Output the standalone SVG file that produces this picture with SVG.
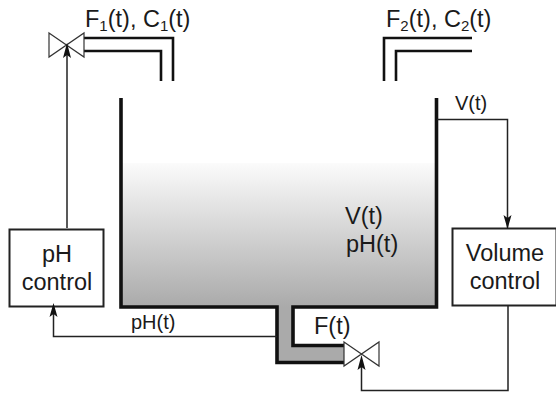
<svg xmlns="http://www.w3.org/2000/svg" width="556" height="393" viewBox="0 0 556 393">
<style>
text{font-family:"Liberation Sans",Arial,sans-serif;font-size:23.500px;fill:#1a1a1a}
.sm{font-size:20px}
.sub{font-size:15px}
.pipe{fill:none;stroke:#111;stroke-width:2.6}
.wall{fill:none;stroke:#111;stroke-width:3.6}
.sig{fill:none;stroke:#222;stroke-width:1.5}
.box{fill:#fff;stroke:#222;stroke-width:2}
.valve{fill:#fff;stroke:#333;stroke-width:1.2}
.ah{fill:#111}
</style>
<defs>
<linearGradient id="liq" x1="0" y1="0" x2="0" y2="1">
<stop offset="0" stop-color="#fbfbfb"/><stop offset="1" stop-color="#aaaaaa"/>
</linearGradient>
</defs>
<g id="tank">
<rect x="121" y="163" width="316" height="144" fill="url(#liq)"/>
<path d="M277 307H293V345H344V363H277Z" fill="#aaaaaa"/>
<path class="wall" d="M121 98V307H277V362.500H344"/>
<path class="wall" d="M436.500 98V307H293V345.500H344"/>
</g>
<g id="inlet1" class="pipe"><path d="M84 38H173V81M84 51H161V81"/></g>
<g id="inlet2" class="pipe"><path d="M472 38H384V81M472 51H396V81"/></g>
<g id="connectors">
<path class="sig" d="M67 228V48"/>
<path class="sig" d="M277 336.500H53.500V306"/>
<path class="sig" d="M437 119.500H507.500V228"/>
<path class="sig" stroke="#666" d="M508 306V390.500H361.500V363"/>
</g>
<g id="valve1"><path class="valve" d="M49 33L84 57V33L49 57Z"/></g>
<g id="valve2"><path class="valve" d="M344 342L379 366V342L344 366Z"/></g>
<g id="ph-control"><rect class="box" x="9.500" y="229.500" width="94" height="77"/>
<text x="57" y="262" text-anchor="middle">pH</text><text x="57" y="290" text-anchor="middle">control</text></g>
<g id="volume-control"><rect class="box" x="452.500" y="228.500" width="104" height="77"/>
<text x="505" y="261" text-anchor="middle">Volume</text><text x="505" y="289" text-anchor="middle">control</text></g>
<g id="arrows">
<path class="ah" d="M67 43L71 58L67 55L63 58Z"/>
<path class="ah" d="M53.500 303L57.500 317L53.500 314L49.500 317Z"/>
<path class="ah" d="M507.500 229L503.500 215L507.500 218L511.500 215Z"/>
<path class="ah" d="M361.500 355L365.500 370L361.500 367L357.500 370Z"/>
</g>
<g id="labels">
<text x="85" y="27">F<tspan class="sub" dy="4">1</tspan><tspan dy="-4">(t), C</tspan><tspan class="sub" dy="4">1</tspan><tspan dy="-4">(t)</tspan></text>
<text x="386" y="27">F<tspan class="sub" dy="4">2</tspan><tspan dy="-4">(t), C</tspan><tspan class="sub" dy="4">2</tspan><tspan dy="-4">(t)</tspan></text>
<text class="sm" x="455" y="110">V(t)</text>
<text x="345" y="224">V(t)</text>
<text x="346" y="252">pH(t)</text>
<text class="sm" x="131" y="329">pH(t)</text>
<text x="314" y="334">F(t)</text>
</g>
</svg>
